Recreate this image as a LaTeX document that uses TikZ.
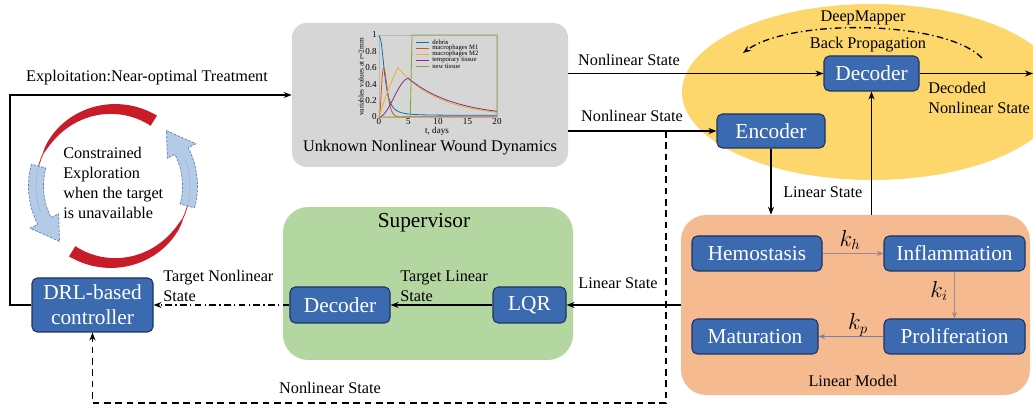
\documentclass[tikz,border=0pt]{standalone}
\usepackage{fontspec}
\setmainfont{Liberation Serif}
\usetikzlibrary{arrows.meta,shapes.geometric,calc}

\definecolor{boxblue}{RGB}{59,106,177}
\definecolor{boxedge}{RGB}{30,52,95}
\definecolor{dyngray}{RGB}{214,214,214}
\definecolor{mapyellow}{RGB}{253,215,108}
\definecolor{supgreen}{RGB}{180,214,160}
\definecolor{linorange}{RGB}{245,186,143}
\definecolor{ratemauve}{RGB}{160,135,150}
\definecolor{rateblue}{RGB}{110,130,185}
\definecolor{cyclered}{RGB}{200,28,40}
\definecolor{cycleblue}{RGB}{172,197,230}
\definecolor{cycleedge}{RGB}{95,125,175}
\definecolor{cdebris}{RGB}{0,114,189}
\definecolor{cmone}{RGB}{217,83,25}
\definecolor{cmtwo}{RGB}{237,177,32}
\definecolor{ctemp}{RGB}{126,47,142}
\definecolor{cnew}{RGB}{119,172,48}

\begin{document}
\begin{tikzpicture}[x=0.75pt,y=-0.75pt,
  lbl/.style={font=\fontsize{12.2pt}{15pt}\selectfont, inner sep=0pt, align=left},
  blk/.style={rectangle, rounded corners=4pt, fill=boxblue, draw=boxedge,
    line width=0.8pt, text=white, font=\fontsize{16pt}{18.75pt}\selectfont,
    inner sep=0pt, align=center},
  panel/.style={rectangle, inner sep=0pt},
  arr/.style={line width=1pt, -{Stealth[length=6pt,width=4.5pt]}},
  ratearr/.style={line width=0.8pt, -{Stealth[length=5pt,width=4pt]}},
  dashline/.style={dash pattern=on 5pt off 3.5pt},
  dashdotline/.style={dash pattern=on 5pt off 2.5pt on 1pt off 2.5pt},
  tick/.style={font=\fontsize{6.8pt}{7pt}\selectfont, inner sep=0pt},
  legendtext/.style={font=\fontsize{5pt}{5pt}\selectfont, inner sep=0pt, anchor=west}
]
\useasboundingbox (0,0) rectangle (1033,406);
\clip (0,0) rectangle (1033,406);

% ---------- background panels ----------
\node[panel, ellipse, fill=mapyellow, minimum width=285pt, minimum height=132pt] (mapper) at (872,92) {};
\node[panel, rounded corners=11pt, fill=dyngray, minimum width=207pt, minimum height=108pt] (dyn) at (430,95) {};
\node[panel, rounded corners=19pt, fill=supgreen, minimum width=217.5pt, minimum height=114.75pt] (sup) at (428,283.5) {};
\node[panel, rounded corners=19pt, fill=linorange, minimum width=261.75pt, minimum height=135pt] (lin) at (855.5,305) {};

\node[lbl] (dyntitle) at (430,148) {Unknown Nonlinear Wound Dynamics};
\node[lbl, font=\fontsize{16pt}{18pt}\selectfont] (suptitle) at (424,223) {Supervisor};
\node[lbl] (lintitle) at (853,381) {Linear Model};
\node[lbl] (maptitle) at (863,18) {DeepMapper};
\node[lbl] (bptitle) at (868,45) {Back Propagation};

% ---------- wound dynamics plot ----------
\draw[gray!55, line width=0.5pt] (379,35) rectangle (497,117);
\begin{scope}[shift={(379,117)}, x=4.425pt, y=61.5pt, line width=0.6pt]
  \draw[cdebris] (0,1) -- plot[domain=0.02:20, samples=150] (\x,{0.96/(1+(\x)^2.5)+0.02});
  \draw[cmone] plot[domain=0:6, samples=80] (\x,{0.6*(\x/0.8)*(\x/0.8)*(\x/0.8)*exp(3*(1-\x/0.8))}) -- (20,0.003);
  \draw[cmtwo] plot[domain=0:3.2, samples=30] (\x,{0.6*(\x/3.2)*(1.25-0.25*\x/3.2)})
                -- plot[domain=3.2:20, samples=60] (\x,{0.6*exp(-0.14*(\x-3.2))});
  \draw[ctemp] plot[domain=0:5, samples=40] (\x,{0.47*(\x/5)*(\x/5)*(3-2*\x/5)})
                -- plot[domain=5:20, samples=60] (\x,{0.47*exp(-0.127*(\x-5))});
  \draw[cnew] (0,0) -- (5.3,0) -- (5.6,1) -- (20,1) -- (20,0.02);
\end{scope}
\foreach \v/\t in {0/0,0.2/0.2,0.4/0.4,0.6/0.6,0.8/0.8,1/1}
  \node[tick, anchor=east] (yt\t) at (377,{117-82*\v}) {\t};
\foreach \t in {0,5,10,15,20}
  \node[tick] (xt\t) at ({379+5.9*\t},122) {\t};
\node[tick] (xlabel) at (437,131) {t, days};
\node[font=\fontsize{5.5pt}{6pt}\selectfont, inner sep=0pt, rotate=90] (ylabel) at (361,77) {variables values at r=2mm};
\foreach \c/\txt/\yy in {cdebris/debris/42, cmone/macrophages M1/48, cmtwo/macrophages M2/54, ctemp/temporary tissue/60, cnew/new tissue/66}{
  \draw[\c, line width=0.6pt] (416,\yy) -- (429,\yy);
  \node[legendtext] at (432,\yy) {\txt};
}

% ---------- blocks ----------
\node[blk, minimum width=71.25pt, minimum height=26.25pt] (dec) at (871.5,73.5) {Decoder};
\node[blk, minimum width=81pt, minimum height=25.5pt] (enc) at (771,131) {Encoder};
\node[blk, minimum width=90.75pt, minimum height=40.5pt] (drl) at (92.5,305) {DRL-based\\controller};
\node[blk, minimum width=75pt, minimum height=27pt] (sdec) at (340,305) {Decoder};
\node[blk, minimum width=54.75pt, minimum height=27pt] (lqr) at (529.5,305) {LQR};
\node[blk, minimum width=97.5pt, minimum height=26.25pt] (hem) at (757,253.5) {Hemostasis};
\node[blk, minimum width=105.75pt, minimum height=26.25pt] (inf) at (954.5,253.5) {Inflammation};
\node[blk, minimum width=105.75pt, minimum height=26.25pt] (pro) at (954.5,336.5) {Proliferation};
\node[blk, minimum width=94.5pt, minimum height=26.25pt] (mat) at (755,336.5) {Maturation};

% ---------- rates of the linear model ----------
\draw[ratearr, ratemauve] (hem) -- (inf);
\draw[ratearr, ratemauve] (inf) -- (pro);
\draw[ratearr, rateblue] (pro) -- (mat);
\node[font=\fontsize{16pt}{18pt}\selectfont, inner sep=0pt] (kh) at (850,240) {$k_h$};
\node[font=\fontsize{16pt}{18pt}\selectfont, inner sep=0pt] (ki) at (939,291) {$k_i$};
\node[font=\fontsize{16pt}{18pt}\selectfont, inner sep=0pt] (kp) at (858,325) {$k_p$};

% ---------- signal flow ----------
\coordinate (bend) at (10,305);
\draw[arr] (drl.west) -- (bend) |- (dyn.west);
\node[lbl] (exploit) at (147,78) {Exploitation:Near-optimal Treatment};

\draw[arr] (dyn.east |- dec.west) -- (dec.west);
\node[lbl] (nl1) at (629,60) {Nonlinear State};

\coordinate (out) at (1033,73.5);
\draw[arr] (dec.east) -- (out);
\node[lbl, anchor=west] (decl) at (928,98) {Decoded\\Nonlinear State};

\draw[arr] (dyn.east |- enc.west) -- (enc.west);
\node[lbl] (nl2) at (632,116) {Nonlinear State};

\coordinate (tap) at (666,131);
\coordinate (low) at (666,403);
\draw[arr, dashline] (tap) -- (low) -| (drl.south);
\node[lbl] (nl3) at (330,388) {Nonlinear State};

\draw[arr] (enc.south) -- (enc.south |- lin.north);
\node[lbl, anchor=west] (ls1) at (783,192) {Linear State};
\draw[arr] (lin.north -| dec.south) -- (dec.south);

\draw[arr] (lin.west |- lqr.east) -- (lqr.east);
\node[lbl] (ls2) at (618,283) {Linear State};

\draw[arr] (lqr.west) -- (sdec.east);
\node[lbl, anchor=west] (tls) at (400,286) {Target Linear\\State};

\draw[arr, dashdotline] (sdec.west) -- (drl.east);
\node[lbl, anchor=west] (tns) at (163,286) {Target Nonlinear\\State};

% back propagation through the mapper
\coordinate (bpS) at (982,58);
\coordinate (bpE) at (743,53);
\draw[arr, dashdotline] (bpS) .. controls (945,20) and (790,18) .. (bpE);

% ---------- constrained exploration cycle ----------
\begin{scope}[shift={(113,186)}, x=0.75pt, y=0.75pt]
  \def\R{77}
  % tapering red tails
  \fill[cyclered] plot[domain=58:155, samples=40] (\x:{\R+6*sqrt(max(0,(155-\x)/97))})
      -- plot[domain=155:58, samples=40] (\x:{\R-6*sqrt(max(0,(155-\x)/97))}) -- cycle;
  \draw[cyclered, line width=0.6pt] plot[domain=150:200, samples=20] (\x:\R);
  \fill[cyclered] plot[domain=238:335, samples=40] (\x:{\R+6*sqrt(max(0,(335-\x)/97))})
      -- plot[domain=335:238, samples=40] (\x:{\R-6*sqrt(max(0,(335-\x)/97))}) -- cycle;
  \draw[cyclered, line width=0.6pt] plot[domain=330:380, samples=20] (\x:\R);
  % blue heads
  \filldraw[fill=cycleblue, fill opacity=0.9, draw=cycleedge, line width=0.5pt, dash pattern=on 2pt off 1pt]
    plot[domain=165:207, samples=20] (\x:{\R+7.5}) -- (207:{\R+16}) -- (226:\R) -- (207:{\R-16})
    -- plot[domain=207:165, samples=20] (\x:{\R-7.5}) -- cycle;
  \filldraw[fill=cycleblue, fill opacity=0.9, draw=cycleedge, line width=0.5pt, dash pattern=on 2pt off 1pt]
    plot[domain=345:387, samples=20] (\x:{\R+7.5}) -- (387:{\R+16}) -- (406:\R) -- (387:{\R-16})
    -- plot[domain=387:345, samples=20] (\x:{\R-7.5}) -- cycle;
\end{scope}
\node[lbl, anchor=west, font=\fontsize{12.2pt}{15pt}\selectfont] (explore) at (63,183) {Constrained\\Exploration\\when the target\\is unavailable};

\end{tikzpicture}
\end{document}
